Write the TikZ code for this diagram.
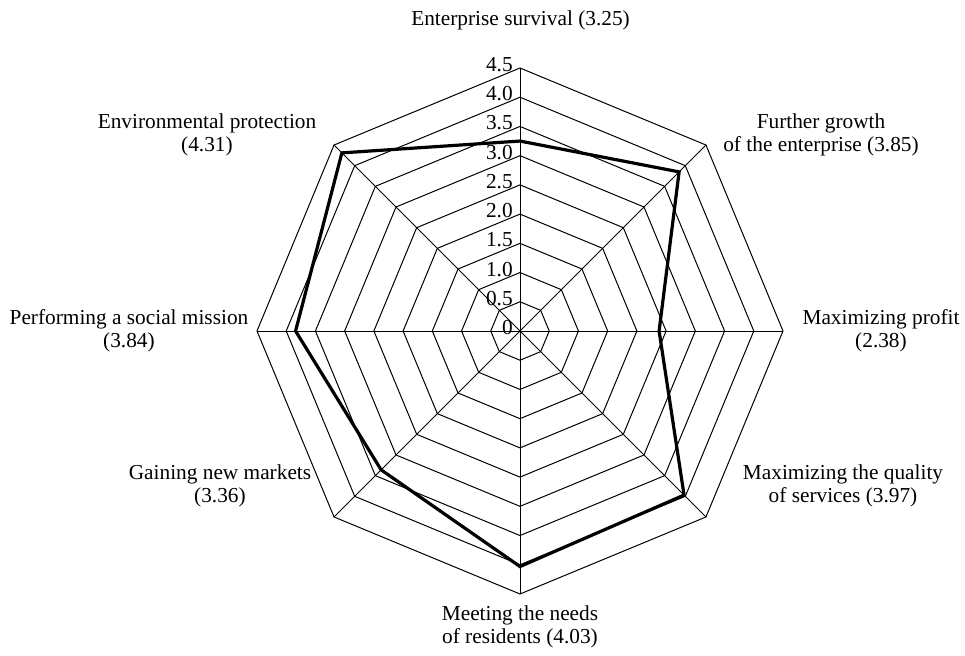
\documentclass[tikz,border=0pt]{standalone}
\usepackage{fontspec}
\setmainfont{Liberation Serif}
\begin{document}
\begin{tikzpicture}[x=1bp,y=1bp,line join=miter,
  grid/.style={black,line width=0.75bp},
  score/.style={black,line width=2.4bp},
  label/.style={draw=none,inner sep=0pt,align=center,font=\fontsize{16.05}{17.4}\selectfont}]
%%
\useasboundingbox (-390bp,-243.75bp) rectangle (333.75bp,248.25bp);
\coordinate (centre) at (0bp,0bp);
%% rings, 0.5 apart
\foreach \r in {1,...,9}
  \draw [grid] (90:{\r*21.917}) -- (45:{\r*21.917}) -- (0:{\r*21.917}) -- (-45:{\r*21.917})
    -- (-90:{\r*21.917}) -- (-135:{\r*21.917}) -- (180:{\r*21.917}) -- (135:{\r*21.917}) -- cycle;
%% spokes
\foreach \a in {90,45,0,-45,-90,-135,180,135}
  \draw [grid] (centre) -- (\a:197.25);
%% scale
\foreach \v [count=\i from 0] in {0,0.5,1.0,1.5,2.0,2.5,3.0,3.5,4.0,4.5}
  \node (tick_\i) [label,anchor=base east] at (-5.25bp,{\i*21.917-2.6}) {\v};
%% scores
\draw [score] (90:{3.25*43.833}) -- (45:{3.85*43.833}) -- (0:{2.38*43.833}) -- (-45:{3.97*43.833})
  -- (-90:{4.03*43.833}) -- (-135:{3.36*43.833}) -- (180:{3.84*43.833}) -- (135:{4.31*43.833}) -- cycle;
%% axis names
\node (node_survival) at (0.4bp,233.25bp) [label] {Enterprise survival (3.25)};
\node (node_growth) at (225.75bp,147.0bp) [label] {Further growth\\of the enterprise (3.85)};
\node (node_profit) at (270.75bp,0.0bp) [label] {Maximizing profit\\(2.38)};
\node (node_quality) at (242.25bp,-116.25bp) [label] {Maximizing the quality\\of services (3.97)};
\node (node_residents) at (0.0bp,-222.0bp) [label] {Meeting the needs\\of residents (4.03)};
\node (node_markets) at (-225.0bp,-116.25bp) [label] {Gaining new markets\\(3.36)};
\node (node_social) at (-293.25bp,0.0bp) [label] {Performing a social mission\\(3.84)};
\node (node_env) at (-234.75bp,147.0bp) [label] {Environmental protection\\(4.31)};
%
\end{tikzpicture}
\end{document}
